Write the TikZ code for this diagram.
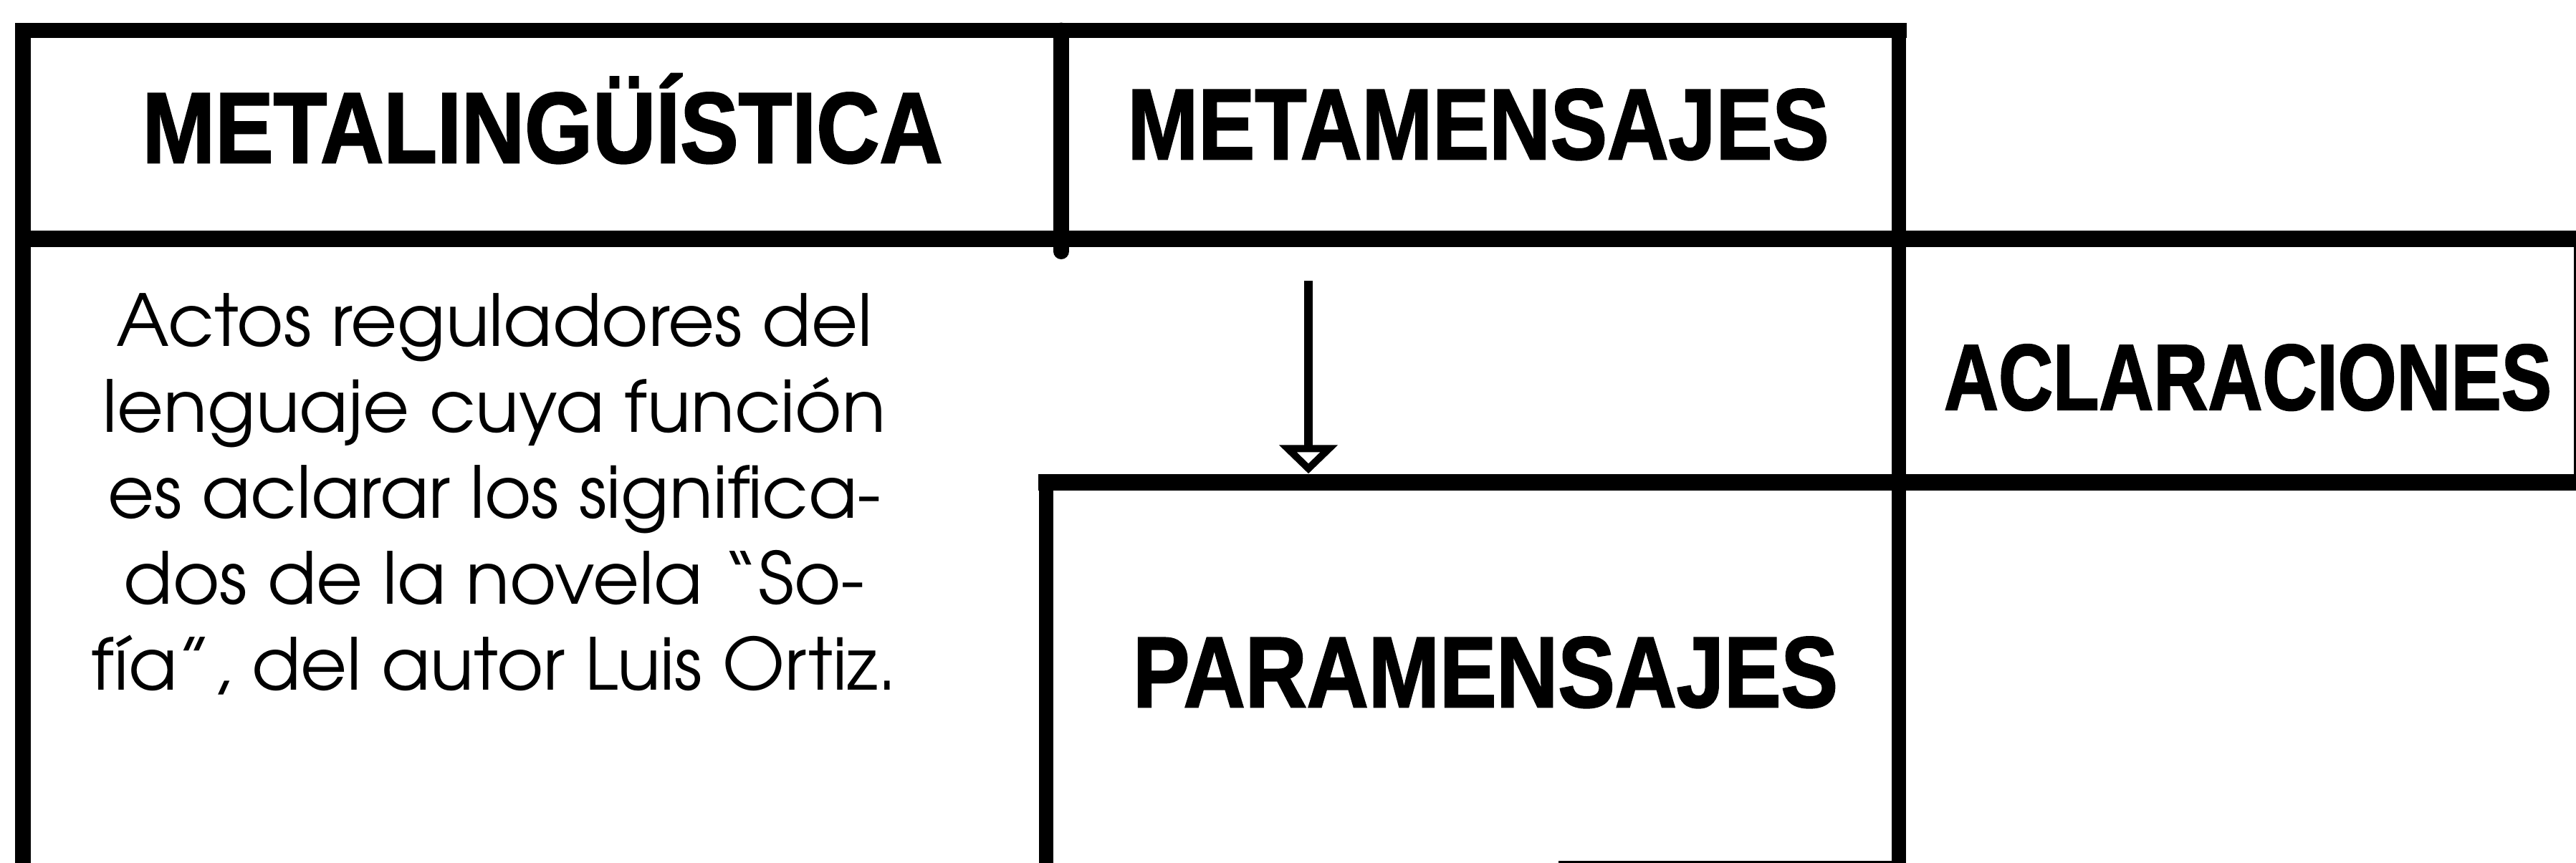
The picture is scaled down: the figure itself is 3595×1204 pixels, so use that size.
\documentclass[tikz,border=0pt]{standalone}
\usepackage{fontspec}
\usetikzlibrary{arrows.meta}
\newfontfamily\hdrfont{Liberation Sans Bold}[FakeBold=1.8]
\newfontfamily\descfont{texgyreadventor-regular.otf}
\newcommand\hdrbox[2]{\resizebox{#1}{\height}{#2}}
\begin{document}
\begin{tikzpicture}[x=0.25pt,y=-0.25pt,
  rule/.style={line width=#1, line cap=rect},
  hdrtxt/.style={anchor=base, inner sep=0pt, font={\hdrfont\fontsize{35pt}{40pt}\selectfont}},
  desctxt/.style={anchor=north, inner sep=0pt, align=center, font={\descfont\fontsize{25pt}{30pt}\selectfont}},
  cellbox/.style={inner sep=0pt, draw=none},
  arrowst/.style={line width=3pt, -{Triangle[open, length=10pt, width=20pt, line width=2.5pt]}}
]
\fill[white] (0,0) rectangle (3595,1204);
\useasboundingbox (0,0) rectangle (3595,1204);
\clip (0,0) rectangle (3595,1204);

% frame lines
\draw[rule=5.25pt] (32,42.5) -- (2650,42.5);
\draw[rule=5.5pt] (32,42.5) -- (32,1215);
\draw[rule=5pt] (2650,42.5) -- (2650,1215);
\draw[rule=5.75pt] (32,333.5) -- (3610,333.5);
\draw[line width=5.5pt, line cap=round] (1481,42.5) -- (1481,351);
\draw[rule=5.75pt] (1460,673.5) -- (3610,673.5);
\draw[rule=5pt] (1460,673.5) -- (1460,1215);
\draw[line width=0.75pt] (3593,333.5) -- (3593,673.5);
\draw[line width=0.75pt] (2175,1203) -- (2650,1203);

% cells
\node[cellbox, minimum width=297.5pt, minimum height=132.6pt] (paracell) at (2055,938.75) {};

% texts
\node[hdrtxt] (metaling) at (757,227) {\hdrbox{279.25pt}{METALINGÜÍSTICA}};
\node[hdrtxt] (metamen) at (2063,222) {\hdrbox{244.75pt}{METAMENSAJES}};
\node[hdrtxt, font={\hdrfont\fontsize{32.6pt}{38pt}\selectfont}] (aclar) at (3137,572) {\hdrbox{212pt}{ACLARACIONES}};
\node[hdrtxt] (paramen) at (2073,987) {\hdrbox{246pt}{PARAMENSAJES}};
\node[desctxt] (desc) at (690,409) {Actos reguladores del\\lenguaje cuya función\\es aclarar los significa-\\dos de la novela “So-\\fía”, del autor Luis Ortiz.};

% arrow
\coordinate (arrowtop) at (1826,392);
\draw[arrowst, shorten >=2.875pt] (arrowtop) -- (arrowtop |- paracell.north);
\end{tikzpicture}
\end{document}
